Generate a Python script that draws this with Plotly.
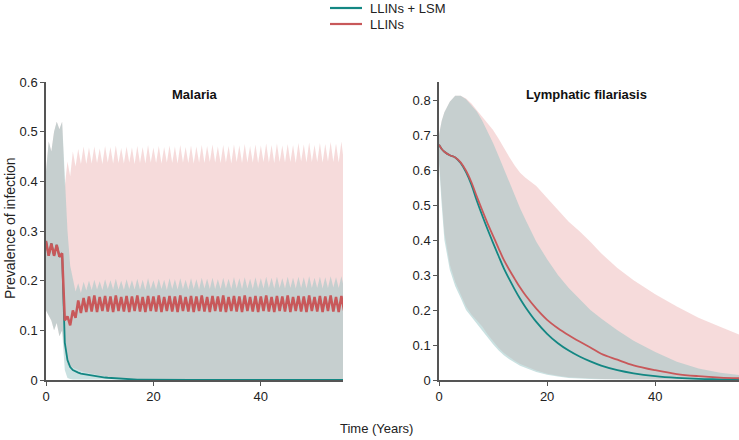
import plotly.graph_objects as go

# ---------------- Malaria (half-year samples, years 0 .. 55.5) ----------------
mal_years = [i * 0.5 for i in range(112)]

mal_llins_mean = [
    0.28, 0.25, 0.275, 0.25, 0.272, 0.248, 0.255, 0.12, 0.128, 0.11, 0.14, 0.125, 0.16, 0.135, 0.165, 0.137,
    0.168, 0.138, 0.170, 0.137, 0.167, 0.139, 0.169, 0.138, 0.168, 0.137, 0.170, 0.139,
    0.167, 0.138, 0.169, 0.137, 0.168, 0.139, 0.170, 0.138, 0.167, 0.137, 0.169, 0.139,
    0.168, 0.138, 0.170, 0.137, 0.167, 0.139, 0.169, 0.138, 0.168, 0.137, 0.170, 0.139,
    0.167, 0.138, 0.169, 0.137, 0.168, 0.139, 0.170, 0.138, 0.167, 0.137, 0.169, 0.139,
    0.168, 0.138, 0.170, 0.137, 0.167, 0.139, 0.169, 0.138, 0.168, 0.137, 0.170, 0.139,
    0.167, 0.138, 0.169, 0.137, 0.168, 0.139, 0.170, 0.138, 0.167, 0.137, 0.169, 0.139,
    0.168, 0.138, 0.170, 0.137, 0.167, 0.139, 0.169, 0.138, 0.168, 0.137, 0.170, 0.139,
    0.167, 0.138, 0.169, 0.137, 0.168, 0.139, 0.170, 0.138, 0.167, 0.137, 0.169, 0.140,
]

mal_llins_hi = [
    0.42, 0.48, 0.46, 0.50, 0.52, 0.505, 0.52, 0.39, 0.44, 0.41, 0.46, 0.43, 0.465, 0.435, 0.47, 0.435,
    0.468, 0.436, 0.470, 0.437, 0.466, 0.435, 0.471, 0.438, 0.469, 0.436, 0.472, 0.437,
    0.467, 0.436, 0.470, 0.438, 0.468, 0.435, 0.471, 0.437, 0.469, 0.436, 0.473, 0.438,
    0.468, 0.437, 0.471, 0.436, 0.469, 0.438, 0.472, 0.437, 0.470, 0.436, 0.473, 0.438,
    0.469, 0.437, 0.472, 0.436, 0.470, 0.438, 0.473, 0.437, 0.471, 0.439, 0.474, 0.438,
    0.470, 0.437, 0.473, 0.438, 0.471, 0.436, 0.474, 0.439, 0.472, 0.437, 0.475, 0.438,
    0.471, 0.438, 0.474, 0.437, 0.472, 0.439, 0.476, 0.438, 0.473, 0.437, 0.476, 0.439,
    0.472, 0.438, 0.475, 0.439, 0.473, 0.437, 0.477, 0.440, 0.474, 0.438, 0.478, 0.439,
    0.473, 0.439, 0.477, 0.438, 0.475, 0.440, 0.479, 0.439, 0.476, 0.438, 0.480, 0.436,
]

mal_llins_lo = [
    0.14, 0.13, 0.12, 0.10, 0.115, 0.088, 0.10, 0.06, 0.03, 0.027, 0.025, 0.022, 0.02, 0.018, 0.016, 0.015,
    0.013, 0.012, 0.011, 0.01, 0.009, 0.008, 0.007, 0.006, 0.005, 0.005, 0.004, 0.004, 0.003, 0.003,
    0.002, 0.002, 0.002, 0.001, 0.001, 0.001, 0.001, 0.001, 0.001, 0.001,
    0, 0, 0, 0, 0, 0, 0, 0, 0, 0, 0, 0,
    0, 0, 0, 0, 0, 0, 0, 0, 0, 0, 0, 0,
    0, 0, 0, 0, 0, 0, 0, 0, 0, 0, 0, 0,
    0, 0, 0, 0, 0, 0, 0, 0, 0, 0, 0, 0,
    0, 0, 0, 0, 0, 0, 0, 0, 0, 0, 0, 0,
    0, 0, 0, 0, 0, 0, 0, 0, 0, 0, 0, 0,
]

mal_lsm_mean = [
    0.28, 0.25, 0.275, 0.25, 0.272, 0.248, 0.255,
    0.075, 0.04, 0.026, 0.02, 0.017, 0.015, 0.013, 0.012, 0.011, 0.01, 0.009, 0.008, 0.007, 0.006,
    0.0055, 0.005, 0.0045, 0.004, 0.0035, 0.003, 0.0025, 0.002, 0.0018, 0.0015, 0.0012, 0.001,
    0.0008, 0.0006, 0.0005, 0.0004, 0.0003, 0.0002, 0.0001,
    0, 0, 0, 0, 0, 0, 0, 0, 0, 0, 0, 0,
    0, 0, 0, 0, 0, 0, 0, 0, 0, 0, 0, 0,
    0, 0, 0, 0, 0, 0, 0, 0, 0, 0, 0, 0,
    0, 0, 0, 0, 0, 0, 0, 0, 0, 0, 0, 0,
    0, 0, 0, 0, 0, 0, 0, 0, 0, 0, 0, 0,
    0, 0, 0, 0, 0, 0, 0, 0, 0, 0, 0, 0,
]

mal_lsm_hi = [
    0.42, 0.48, 0.46, 0.50, 0.52, 0.505, 0.52,
    0.40, 0.30, 0.23, 0.20, 0.178, 0.195, 0.175, 0.198, 0.18,
    0.200, 0.181, 0.202, 0.182, 0.199, 0.181, 0.203, 0.183, 0.201, 0.182, 0.204, 0.182,
    0.200, 0.181, 0.203, 0.183, 0.201, 0.182, 0.204, 0.182, 0.202, 0.181, 0.205, 0.183,
    0.201, 0.182, 0.204, 0.183, 0.202, 0.181, 0.205, 0.183, 0.203, 0.182, 0.205, 0.183,
    0.202, 0.182, 0.205, 0.183, 0.203, 0.182, 0.206, 0.184, 0.204, 0.183, 0.206, 0.183,
    0.203, 0.183, 0.206, 0.184, 0.204, 0.183, 0.207, 0.184, 0.205, 0.183, 0.207, 0.184,
    0.204, 0.183, 0.207, 0.184, 0.205, 0.184, 0.208, 0.185, 0.206, 0.184, 0.208, 0.185,
    0.205, 0.184, 0.208, 0.185, 0.206, 0.184, 0.208, 0.185, 0.207, 0.184, 0.209, 0.185,
    0.206, 0.185, 0.208, 0.184, 0.207, 0.185, 0.209, 0.186, 0.207, 0.185, 0.209, 0.184,
]

mal_lsm_lo = [
    0.14, 0.13, 0.12, 0.10, 0.115, 0.088, 0.10,
    0.02, 0.004, 0.002, 0.001, 0, 0, 0, 0, 0,
    0, 0, 0, 0, 0, 0, 0, 0, 0, 0, 0, 0,
    0, 0, 0, 0, 0, 0, 0, 0, 0, 0, 0, 0,
    0, 0, 0, 0, 0, 0, 0, 0, 0, 0, 0, 0,
    0, 0, 0, 0, 0, 0, 0, 0, 0, 0, 0, 0,
    0, 0, 0, 0, 0, 0, 0, 0, 0, 0, 0, 0,
    0, 0, 0, 0, 0, 0, 0, 0, 0, 0, 0, 0,
    0, 0, 0, 0, 0, 0, 0, 0, 0, 0, 0, 0,
    0, 0, 0, 0, 0, 0, 0, 0, 0, 0, 0, 0,
]

# ---------------- Lymphatic filariasis ----------------
lf_years = [0, 0.5, 1, 2, 3, 4, 5, 6, 7, 8, 9, 10, 11, 12, 13, 14, 15, 16, 18, 20,
            22, 24, 26, 28, 30, 33, 36, 40, 44, 48, 52, 55.5]

lf_llins_mean = [0.672, 0.66, 0.652, 0.642, 0.636, 0.622, 0.598, 0.565, 0.524, 0.485, 0.447, 0.412,
                 0.377, 0.343, 0.315, 0.289, 0.264, 0.242, 0.204, 0.172, 0.148, 0.128, 0.11, 0.093,
                 0.075, 0.058, 0.042, 0.028, 0.017, 0.011, 0.007, 0.005]
lf_lsm_mean = [0.672, 0.66, 0.652, 0.642, 0.636, 0.62, 0.594, 0.558, 0.512, 0.47, 0.43, 0.392,
               0.355, 0.319, 0.288, 0.259, 0.232, 0.208, 0.166, 0.132, 0.105, 0.084, 0.067, 0.053,
               0.041, 0.028, 0.019, 0.011, 0.006, 0.003, 0.002, 0.001]
lf_lsm_hi = [0.70, 0.74, 0.765, 0.795, 0.812, 0.812, 0.802, 0.786, 0.767, 0.741, 0.711, 0.677,
             0.641, 0.603, 0.564, 0.527, 0.491, 0.458, 0.395, 0.345, 0.30, 0.263, 0.23, 0.20,
             0.176, 0.142, 0.112, 0.08, 0.052, 0.033, 0.021, 0.014]
lf_llins_hi = [0.70, 0.74, 0.765, 0.795, 0.812, 0.812, 0.804, 0.79, 0.771, 0.752, 0.735, 0.714,
               0.69, 0.662, 0.637, 0.613, 0.592, 0.578, 0.554, 0.52, 0.485, 0.452, 0.425, 0.395,
               0.362, 0.32, 0.285, 0.245, 0.21, 0.178, 0.152, 0.13]
lf_llins_lo = [0.63, 0.52, 0.42, 0.33, 0.28, 0.245, 0.21, 0.187, 0.17, 0.153, 0.13, 0.11,
               0.092, 0.077, 0.065, 0.055, 0.046, 0.039, 0.027, 0.018, 0.012, 0.008, 0.006, 0.004,
               0.003, 0.002, 0.001, 0.0005, 0.0003, 0.0002, 0.0001, 0.0]
lf_lsm_lo = [0.62, 0.50, 0.40, 0.315, 0.268, 0.235, 0.20, 0.178, 0.16, 0.143, 0.121, 0.102,
             0.085, 0.071, 0.059, 0.05, 0.041, 0.034, 0.023, 0.015, 0.01, 0.006, 0.004, 0.003,
             0.002, 0.001, 0.0005, 0.0, 0.0, 0.0, 0.0, 0.0]

for arr in (mal_llins_mean, mal_llins_hi, mal_llins_lo, mal_lsm_mean, mal_lsm_hi, mal_lsm_lo):
    assert len(arr) == len(mal_years), len(arr)
for arr in (lf_llins_mean, lf_lsm_mean, lf_lsm_hi, lf_llins_hi, lf_llins_lo, lf_lsm_lo):
    assert len(arr) == len(lf_years), len(arr)

series_names = ["LLINs + LSM", "LLINs"]
panel_titles = ["Malaria", "Lymphatic filariasis"]
mal_yticks = [0, 0.1, 0.2, 0.3, 0.4, 0.5, 0.6]
lf_yticks = [0, 0.1, 0.2, 0.3, 0.4, 0.5, 0.6, 0.7, 0.8]
xticks = [0, 20, 40]

TEAL = "#138783"
RED = "#c8585a"
PINK_FILL = "rgba(238,190,190,0.55)"
TEAL_FILL = "rgba(150,195,195,0.5)"
FONT = "Liberation Sans, Arial, sans-serif"
TXT = "#222222"

W, H = 739, 440
def px(x):
    return x / W
def py(y):
    return 1 - y / H

fig = go.Figure()

def band(x, hi, lo, color, xa, ya):
    fig.add_trace(go.Scatter(
        x=list(x) + list(x)[::-1], y=list(hi) + list(lo)[::-1],
        fill="toself", fillcolor=color, line=dict(width=0), mode="lines",
        hoverinfo="skip", showlegend=False, xaxis=xa, yaxis=ya))

# Malaria panel
band(mal_years, mal_llins_hi, mal_llins_lo, PINK_FILL, "x", "y")
band(mal_years, mal_lsm_hi, mal_lsm_lo, TEAL_FILL, "x", "y")
fig.add_trace(go.Scatter(x=mal_years, y=mal_lsm_mean, mode="lines", name=series_names[0],
                         line=dict(color=TEAL, width=1.8), xaxis="x", yaxis="y"))
fig.add_trace(go.Scatter(x=mal_years, y=mal_llins_mean, mode="lines", name=series_names[1],
                         line=dict(color=RED, width=2.5), xaxis="x", yaxis="y"))

# LF panel
band(lf_years, lf_llins_hi, lf_llins_lo, PINK_FILL, "x2", "y2")
band(lf_years, lf_lsm_hi, lf_lsm_lo, TEAL_FILL, "x2", "y2")
fig.add_trace(go.Scatter(x=lf_years, y=lf_lsm_mean, mode="lines", line_shape="spline",
                         name=series_names[0], line=dict(color=TEAL, width=1.8), xaxis="x2", yaxis="y2"))
fig.add_trace(go.Scatter(x=lf_years, y=lf_llins_mean, mode="lines", line_shape="spline",
                         name=series_names[1], line=dict(color=RED, width=1.8), xaxis="x2", yaxis="y2"))

axis_common = dict(showgrid=False, zeroline=False, showline=True, linecolor="#555555", linewidth=1.5,
                   ticks="outside", ticklen=4, tickcolor="#555555", tickwidth=1, automargin=False,
                   tickfont=dict(family=FONT, size=13, color=TXT))

y_bottom, y_top = 380, 82

# legend drawn as key swatches + labels (top centre)
legend_rows = [(8, TEAL, series_names[0]), (24, RED, series_names[1])]
shapes = []
annotations = []
for yy, col, name in legend_rows:
    shapes.append(dict(type="line", xref="paper", yref="paper", x0=px(330), x1=px(362),
                       y0=py(yy), y1=py(yy), line=dict(color=col, width=2.2)))
    annotations.append(dict(text=name, x=px(368), y=py(yy), xref="paper", yref="paper",
                            xanchor="left", yanchor="middle", showarrow=False,
                            font=dict(family=FONT, size=13, color=TXT)))

annotations += [
    dict(text="<b>" + panel_titles[0] + "</b>", x=px(195), y=py(94), xref="paper", yref="paper",
         xanchor="center", yanchor="middle", showarrow=False, font=dict(family=FONT, size=13, color="#111111")),
    dict(text="<b>" + panel_titles[1] + "</b>", x=px(586), y=py(94), xref="paper", yref="paper",
         xanchor="center", yanchor="middle", showarrow=False, font=dict(family=FONT, size=13, color="#111111")),
    dict(text="Prevalence of infection", x=px(10), y=py(228), xref="paper", yref="paper",
         xanchor="center", yanchor="middle", showarrow=False, textangle=-90,
         font=dict(family=FONT, size=14, color=TXT)),
    dict(text="Time (Years)", x=px(376), y=py(428), xref="paper", yref="paper",
         xanchor="center", yanchor="middle", showarrow=False, font=dict(family=FONT, size=13, color=TXT)),
]

fig.update_layout(
    template="none",
    width=W, height=H, margin=dict(l=0, r=0, t=0, b=0, pad=0, autoexpand=False),
    paper_bgcolor="white", plot_bgcolor="white",
    font=dict(family=FONT, size=13, color=TXT),
    showlegend=False,
    xaxis=dict(domain=[px(46), px(343)], range=[0, 55.3], tickvals=xticks, anchor="y", **axis_common),
    yaxis=dict(domain=[py(y_bottom), py(y_top)], range=[0, 0.6], tickvals=mal_yticks,
               ticktext=[f"{v:g}" for v in mal_yticks], anchor="x", **axis_common),
    xaxis2=dict(domain=[px(439), 1.0], range=[0, 55.5], tickvals=xticks, anchor="y2", **axis_common),
    yaxis2=dict(domain=[py(y_bottom), py(y_top)], range=[0, (380 - 82) / 350], tickvals=lf_yticks,
                ticktext=[f"{v:g}" for v in lf_yticks], anchor="x2", **axis_common),
    shapes=shapes,
    annotations=annotations,
)

# remove the browser's default 8px page margin so the 739x440 figure fills the window
fig.write_html("out.html", config={"displayModeBar": False},
               post_script="document.body.style.margin='0';")
